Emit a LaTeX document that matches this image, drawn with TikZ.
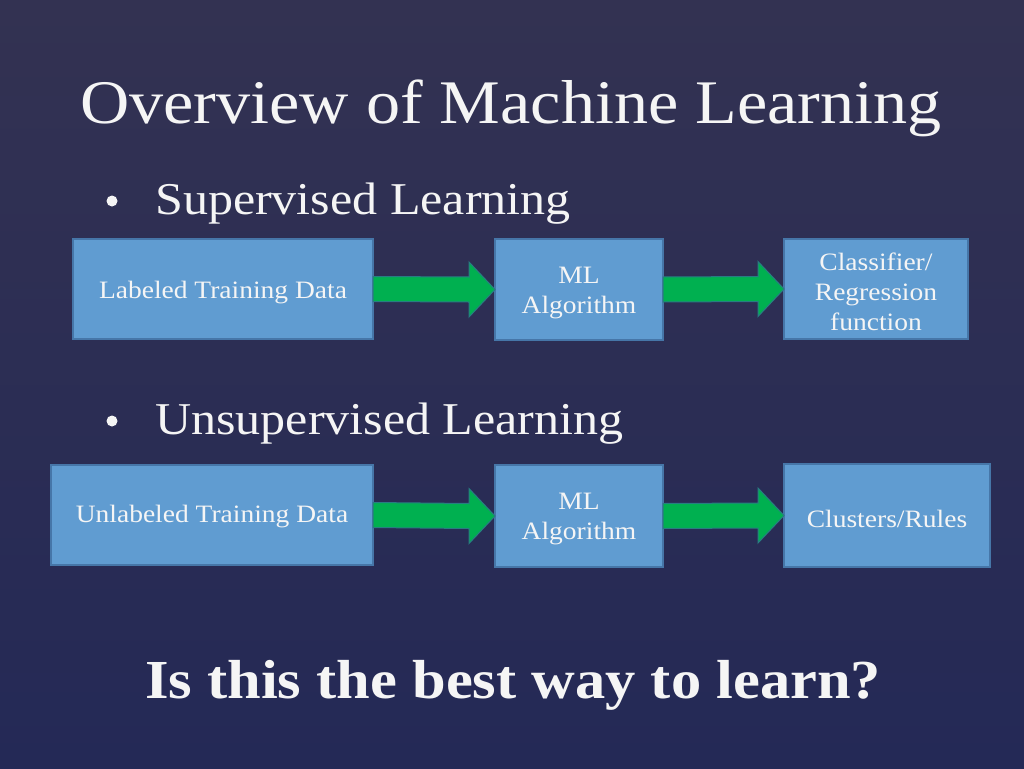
\documentclass[tikz,border=0pt]{standalone}
\usepackage{fontspec}
\setmainfont{Liberation Serif}[FakeStretch=1.1]
\usetikzlibrary{calc}
\definecolor{bgtop}{RGB}{51,50,82}
\definecolor{bgbot}{RGB}{36,41,86}
\definecolor{boxfill}{RGB}{96,156,209}
\definecolor{boxline}{RGB}{70,118,168}
\definecolor{arrgreen}{RGB}{0,176,80}
\definecolor{arrline}{RGB}{40,125,130}
\definecolor{txt}{RGB}{245,245,245}
\tikzset{
  stepbox/.style={draw=boxline, line width=1.5pt, fill=boxfill, inner sep=0pt, outer sep=0pt},
  boxtext/.style={text=txt, align=center, inner sep=0pt, font=\fontsize{25}{30}\selectfont},
  blockarrow/.style={fill=arrgreen, draw=arrline, line width=1pt, line join=miter},
  heading/.style={text=txt, inner sep=0pt, anchor=base west},
}
\newcommand{\blockarr}[2]{% from node, to node
  \path[blockarrow] ($(#1.east)+(0,-12.5)$) -- ($(#2.west)+(-26,-12.5)$) -- ($(#2.west)+(-26,-27.5)$)
     -- (#2.west) -- ($(#2.west)+(-26,27.5)$) -- ($(#2.west)+(-26,12.5)$) -- ($(#1.east)+(0,12.5)$) -- cycle;}
\begin{document}
\begin{tikzpicture}[x=1pt,y=-1pt]
\useasboundingbox (0,0) rectangle (1024,768);
\shade[top color=bgtop, bottom color=bgbot] (0,0) rectangle (1024,768);

% title
\node[heading, font=\fontsize{62}{70}\selectfont] (title) at (80,123) {Overview of Machine Learning};

% bullets
\fill[txt] (112,201) circle[radius=5.5pt];
\node[heading, font=\fontsize{45.5}{50}\selectfont] (sup) at (155,214) {Supervised Learning};
\fill[txt] (112,421) circle[radius=5.5pt];
\node[heading, font=\fontsize{45.5}{50}\selectfont] (unsup) at (155,434) {Unsupervised Learning};

% row 1
\node[stepbox, minimum width=300, minimum height=100] (a1) at (223,289) {};
\node[stepbox, minimum width=168, minimum height=101] (b1) at (579,289.5) {};
\node[stepbox, minimum width=184, minimum height=100] (c1) at (876,289) {};
\node[boxtext] (ta1) at ($(a1.center)+(0,4)$) {Labeled Training Data};
\node[boxtext] (tb1) at ($(b1.center)+(0,4)$) {ML\\Algorithm};
\node[boxtext] (tc1) at ($(c1.center)+(0,3)$) {Classifier/\\Regression\\function};
\blockarr{a1}{b1}
\blockarr{b1}{c1}

% row 2
\node[stepbox, minimum width=322, minimum height=100] (a2) at (212,515) {};
\node[stepbox, minimum width=168, minimum height=102] (b2) at (579,516) {};
\node[stepbox, minimum width=206, minimum height=103] (c2) at (887,515.5) {};
\node[boxtext] (ta2) at ($(a2.center)+(0,2)$) {Unlabeled Training Data};
\node[boxtext] (tb2) at ($(b2.center)+(0,3)$) {ML\\Algorithm};
\node[boxtext] (tc2) at ($(c2.center)+(0,3)$) {Clusters/Rules};
\blockarr{a2}{b2}
\blockarr{b2}{c2}

% question
\node[heading, font=\bfseries\fontsize{55}{60}\selectfont] (q) at (145,698) {Is this the best way to learn?};
\end{tikzpicture}
\end{document}
